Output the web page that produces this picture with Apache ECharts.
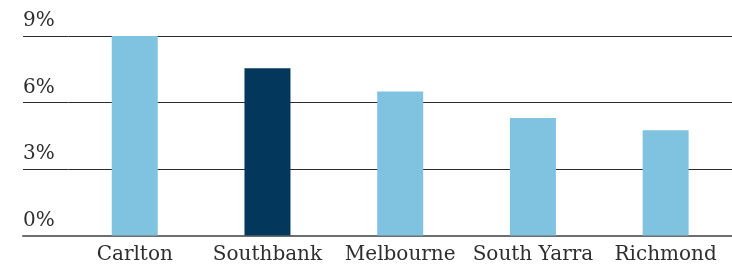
<!DOCTYPE html>
<html><head><meta charset="utf-8">
<script src="https://cdn.jsdelivr.net/npm/echarts@6/dist/echarts.min.js"></script>
<style>html,body{margin:0;padding:0;background:#fff}#c{width:732px;height:276px}</style>
</head><body><div id="c"></div>
<script>
var categories = ['Carlton', 'Southbank', 'Melbourne', 'South Yarra', 'Richmond'];
var values = [9.0, 7.55, 6.5, 5.3, 4.75];
var highlighted = ['Southbank'];
var yTicks = [0, 3, 6, 9];

var FONT = 'DejaVu Serif';
var chart = echarts.init(document.getElementById('c'));
var yCommon = {
  type: 'value', min: yTicks[0], max: yTicks[yTicks.length-1], interval: yTicks[1]-yTicks[0],
  axisLine: {show: false}, axisTick: {show: false},
  splitLine: {show: true, lineStyle: {color: '#2b2b2b', width: 1.2}}
};
chart.setOption({
  animation: false,
  grid: [
    {left: 23, top: 36, width: 45.4, bottom: 40.5},
    {left: 68.4, top: 36, width: 666, bottom: 40.5}
  ],
  xAxis: [
    {gridIndex: 0, type: 'value', min: 0, max: 1, axisLabel: {show: false}, axisTick: {show: false},
     splitLine: {show: false}, axisLine: {show: true, lineStyle: {color: '#6e6e6e', width: 2}}},
    {gridIndex: 1, type: 'category', data: categories, axisTick: {show: false},
     axisLine: {show: true, lineStyle: {color: '#6e6e6e', width: 2}},
     axisLabel: {interval: 0, hideOverlap: false, color: '#2e2e2e', fontFamily: FONT, fontSize: 20, margin: 9}}
  ],
  yAxis: [
    Object.assign({gridIndex: 0, axisLabel: {show: true, inside: true, margin: 0, align: 'left', verticalAlign: 'bottom',
      padding: [0, 0, 5, 0], color: '#2e2e2e', fontFamily: FONT, fontSize: 20,
      formatter: function(v){ return v + '%'; }}}, yCommon),
    Object.assign({gridIndex: 1, axisLabel: {show: false}}, yCommon)
  ],
  series: [{
    type: 'bar', xAxisIndex: 1, yAxisIndex: 1, barWidth: 46,
    data: values.map(function(v, i){
      return {value: v, itemStyle: {color: highlighted.indexOf(categories[i]) >= 0 ? '#03385c' : '#80c3e1'}};
    })
  }]
});
</script></body></html>
